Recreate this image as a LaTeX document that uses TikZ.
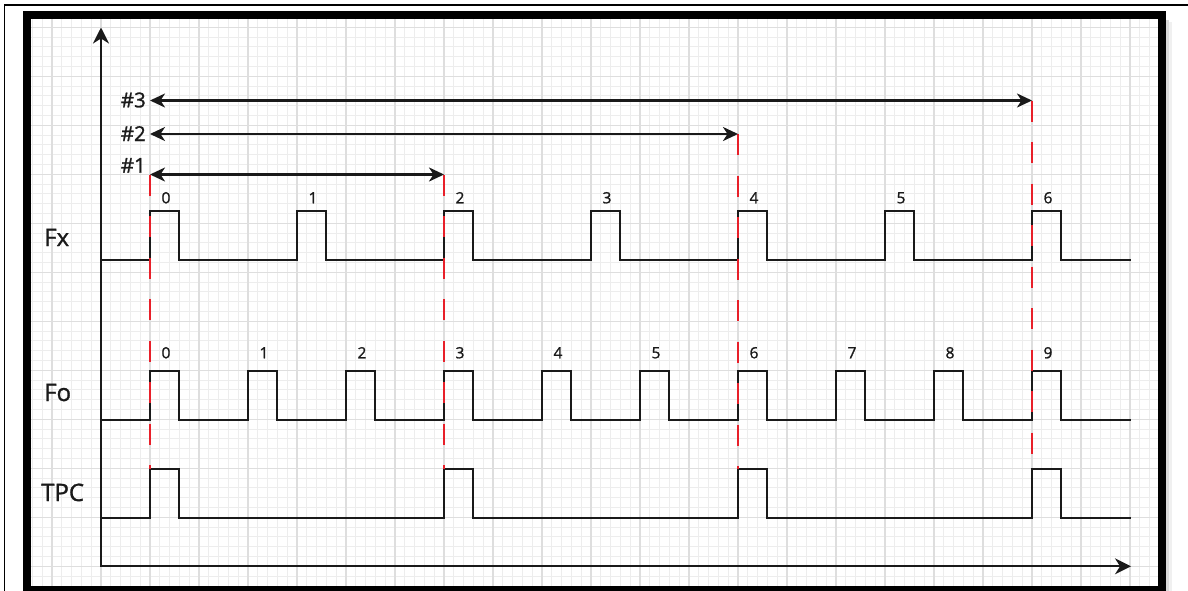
\documentclass[tikz,border=0pt]{standalone}
\usepackage{fontspec}
\setmainfont{Open Sans}[BoldFont={Open Sans}, BoldFeatures={FakeBold=1.2}]
\usetikzlibrary{arrows.meta}
\definecolor{ink}{HTML}{1A1A1A}
\definecolor{cutred}{HTML}{E8202A}
\definecolor{gridminor}{HTML}{EDEDED}
\definecolor{gridmajor}{HTML}{DEDEDE}
\begin{document}
\begin{tikzpicture}[x=1pt,y=-1pt,
  minorgrid/.style={draw=gridminor, line width=1.1pt},
  majorgrid/.style={draw=gridmajor, line width=1.5pt},
  sig/.style={draw=ink, line width=2pt},
  axisline/.style={draw=ink, line width=2pt,
    {Stealth[length=16pt,width=16pt,inset=5pt]}-{Stealth[length=16pt,width=16pt,inset=5pt]}},
  span/.style={draw=ink, line width=2.3pt,
    {Stealth[length=15pt,width=14pt,inset=4.5pt]}-{Stealth[length=15pt,width=14pt,inset=4.5pt]}},
  cut/.style={draw=cutred, line width=2.2pt, dash pattern=on 21pt off 20.5pt},
  lbl/.style={font=\bfseries\fontsize{24}{24}\selectfont, text=ink, inner sep=0pt, anchor=base west},
  idx/.style={font=\bfseries\fontsize{15.5}{15.5}\selectfont, text=ink, inner sep=0pt, anchor=base},
  tag/.style={font=\bfseries\fontsize{20.5}{20.5}\selectfont, text=ink, inner sep=0pt, anchor=base east}]

\useasboundingbox (0,0) rectangle (1188,590);
\fill[white] (0,0) rectangle (1188,590);

% background grid (minor every 9.8, major every 49)
\foreach \k in {-7,...,107} \draw[minorgrid] ({101+9.8*\k},18) -- ({101+9.8*\k},586);
\foreach \k in {0,...,56} \draw[minorgrid] (30,{27.3+9.8*\k}) -- (1158,{27.3+9.8*\k});
\foreach \k in {-1,...,21} \draw[majorgrid] ({101+49*\k},18) -- ({101+49*\k},586);
\foreach \k in {0,...,11} \draw[majorgrid] (30,{27.3+49*\k}) -- (1158,{27.3+49*\k});

% outer thin border
\draw[black, line width=1.8pt] (4.5,600) -- (4.5,5) -- (1200,5);

% thick frame with soft shadow
\fill[gray!30] (1166,20) rectangle (1168.5,595);
\fill[gray!12] (1168.5,22) rectangle (1171.5,595);
\draw[black, line width=7.5pt] (26.75,14.75) rectangle (1162,589.75);

% axes
\coordinate (ytop) at (101,27.5);
\coordinate (org) at (101,566.3);
\coordinate (xend) at (1131,566.3);
\draw[axisline] (ytop) -- (org) -- (xend);

% Fx: period 147, width 29.4
\draw[sig] (101,260) \foreach \i in {0,...,6} { -- ({150+147*\i},260) -- ++(0,-49) -- ++(29.4,0) -- ++(0,49) } -- (1131,260);
% Fo: period 98
\draw[sig] (101,420) \foreach \i in {0,...,9} { -- ({150+98*\i},420) -- ++(0,-49) -- ++(29.4,0) -- ++(0,49) } -- (1131,420);
% TPC: period 294
\draw[sig] (101,518) \foreach \i in {0,...,3} { -- ({150+294*\i},518) -- ++(0,-49) -- ++(29.4,0) -- ++(0,49) } -- (1131,518);

% interval ends
\coordinate (s0) at (150,174.5);
\coordinate (e1) at (444,174.5);
\coordinate (s2) at (150,134);
\coordinate (e2) at (738,134);
\coordinate (s3) at (150,100.5);
\coordinate (e3) at (1032,100.5);
\coordinate (t0) at (150,469);
\coordinate (t1) at (444,469);
\coordinate (t2) at (738,469);
\coordinate (t3) at (1032,469);

% red markers
\draw[cut] (s0) -- (t0);
\draw[cut] (e1) -- (t1);
\draw[cut] (e2) -- (t2);
\draw[cut] (e3) -- (t3);

% interval arrows
\draw[span] (s0) -- (e1);
\draw[span] (s2) -- (e2);
\draw[span] (s3) -- (e3);

% interval tags
\node[tag] (n1) at (146,172.7) {\#1};
\node[tag] (n2) at (146,141) {\#2};
\node[tag] (n3) at (146,107.3) {\#3};

% signal names
\node[lbl] (fx) at (44,246) {Fx};
\node[lbl] (fo) at (44,401) {Fo};
\node[lbl] (tpc) at (41,501) {TPC};

% pulse indices
\foreach \i in {0,...,6} \node[idx] (fx\i) at ({166+147*\i},203.3) {\i};
\foreach \i in {0,...,9} \node[idx] (fo\i) at ({166+98*\i},358.3) {\i};
\end{tikzpicture}
\end{document}
